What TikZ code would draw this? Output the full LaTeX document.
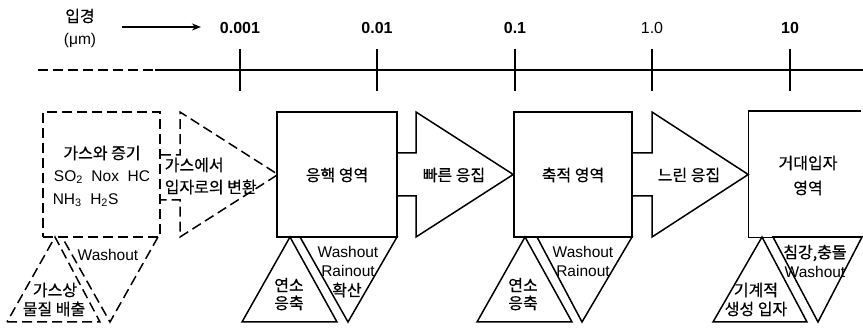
\documentclass[tikz,border=0pt]{standalone}
\usepackage{fontspec}
\setmainfont{Liberation Sans}
\newfontfamily\kr{Noto Sans CJK KR}[FakeBold=0.6]
\usetikzlibrary{arrows.meta}
\begin{document}
\begin{tikzpicture}[x=1pt,y=-1pt,line width=1.5pt,
  dsh/.style={dash pattern=on 10pt off 5pt},
  lbl/.style={font=\fontsize{15.5}{17}\selectfont,inner sep=0pt,align=center},
  klbl/.style={font=\fontsize{16}{17}\selectfont\kr,inner sep=0pt,align=center},
  num/.style={font=\fontsize{16}{17}\selectfont\bfseries,inner sep=0pt},
  numr/.style={font=\fontsize{16}{17}\selectfont,inner sep=0pt},
  zone/.style={draw,minimum height=125pt,inner sep=0pt}]
\useasboundingbox (0,0) rectangle (863,328);

% size axis
\node[klbl] (ip) at (80,16) {입경};
\node[lbl] (um) at (80,40) {(μm)};
\coordinate (a0) at (122,27);
\coordinate (a1) at (201,27);
\draw[-{Stealth[length=9pt,width=7pt]}] (a0) -- (a1);
\node[num] (n1) at (240,28) {0.001};
\node[num] (n2) at (377,28) {0.01};
\node[num] (n3) at (515,28) {0.1};
\node[numr] (n4) at (652,28) {1.0};
\node[num] (n5) at (790,28) {10};
\coordinate (ax0) at (38,70);
\coordinate (axd) at (155,70);
\coordinate (ax1) at (863,70);
\draw[dsh] (ax0) -- (axd);
\draw (axd) -- (ax1);
\foreach \t in {240,377,515,652,790} \draw (\t,49) -- (\t,91);

% gas box
\node[zone,dsh,minimum width=117pt] (gas) at (101.5,174.5) {};
\node[klbl] (g1) at (102,153) {가스와 증기};
\node[lbl] (g2) at (102,177) {SO\textsubscript{2}\ \ Nox\ \ HC};
\node[lbl,anchor=west] (g3) at (52,200) {NH\textsubscript{3}\ \ H\textsubscript{2}S};

% gas-to-particle arrow
\draw[dsh] (gas.east |- 0,155) -- (180,155) -- (180,112) -- (278,174.5) -- (180,237) -- (180,200) -- (gas.east |- 0,200);
\node[klbl,anchor=west] (c1) at (164,165) {가스에서};
\node[klbl,anchor=west] (c2) at (164,187) {입자로의 변환};

% zones
\node[zone,minimum width=120pt] (b1) at (337,174.5) {};
\node[zone,minimum width=118pt] (b2) at (573,174.5) {};
\node[draw=none,minimum height=125pt,minimum width=111pt,inner sep=0pt] (b3) at (804.5,174.5) {};
\draw (b3.north east) -- (b3.north west) -- (b3.south west) -- (b3.south east);

\node[klbl] (t1) at (337,175) {응핵 영역};
\node[klbl] (t2) at (573,175) {축적 영역};
\node[klbl] (t3) at (808,163) {거대입자};
\node[klbl] (t3b) at (808,188) {영역};

% coagulation arrows
\draw (b1.east |- 0,153) -- (416,153) -- (416,112) -- (b2.west) -- (416,237) -- (416,196) -- (b1.east |- 0,196);
\draw (b2.east |- 0,153) -- (652,153) -- (652,112) -- (b3.west) -- (652,237) -- (652,196) -- (b2.east |- 0,196);
\node[klbl] (f1) at (454,175) {빠른 응집};
\node[klbl] (f2) at (689,175) {느린 응집};

% gas triangles
\draw[dsh] (7,322) -- (100,322) -- (55,237) -- cycle;
\draw[dsh] (158,237) -- (110,322) -- (62,237);
\node[lbl] (w0) at (108,255) {Washout};
\node[klbl] (e1) at (55,290) {가스상};
\node[klbl] (e2) at (54,309) {물질 배출};

% zone 1 triangles
\draw (242,322) -- (337,322) -- (290,237) -- cycle;
\draw (300,237) -- (397,237) -- (348,322) -- cycle;
\node[klbl] (s1a) at (289,285) {연소};
\node[klbl] (s1b) at (289,303) {응축};
\node[lbl] (r1a) at (348,252) {Washout};
\node[lbl] (r1b) at (348,271) {Rainout};
\node[klbl] (r1c) at (347,290) {확산};

% zone 2 triangles
\draw (477,322) -- (572,322) -- (525,237) -- cycle;
\draw (537,237) -- (632,237) -- (582,322) -- cycle;
\node[klbl] (s2a) at (523,285) {연소};
\node[klbl] (s2b) at (523,303) {응축};
\node[lbl] (r2a) at (583,252) {Washout};
\node[lbl] (r2b) at (583,271) {Rainout};

% zone 3 triangles
\draw (713,322) -- (807,322) -- (762,237) -- cycle;
\draw (773,237) -- (862,237) -- (818,322) -- cycle;
\node[klbl] (s3a) at (756,290) {기계적};
\node[klbl] (s3b) at (756,309) {생성 입자};
\node[klbl] (r3a) at (815,253) {침강,충돌};
\node[lbl] (r3b) at (815,272) {Washout};
\end{tikzpicture}
\end{document}
